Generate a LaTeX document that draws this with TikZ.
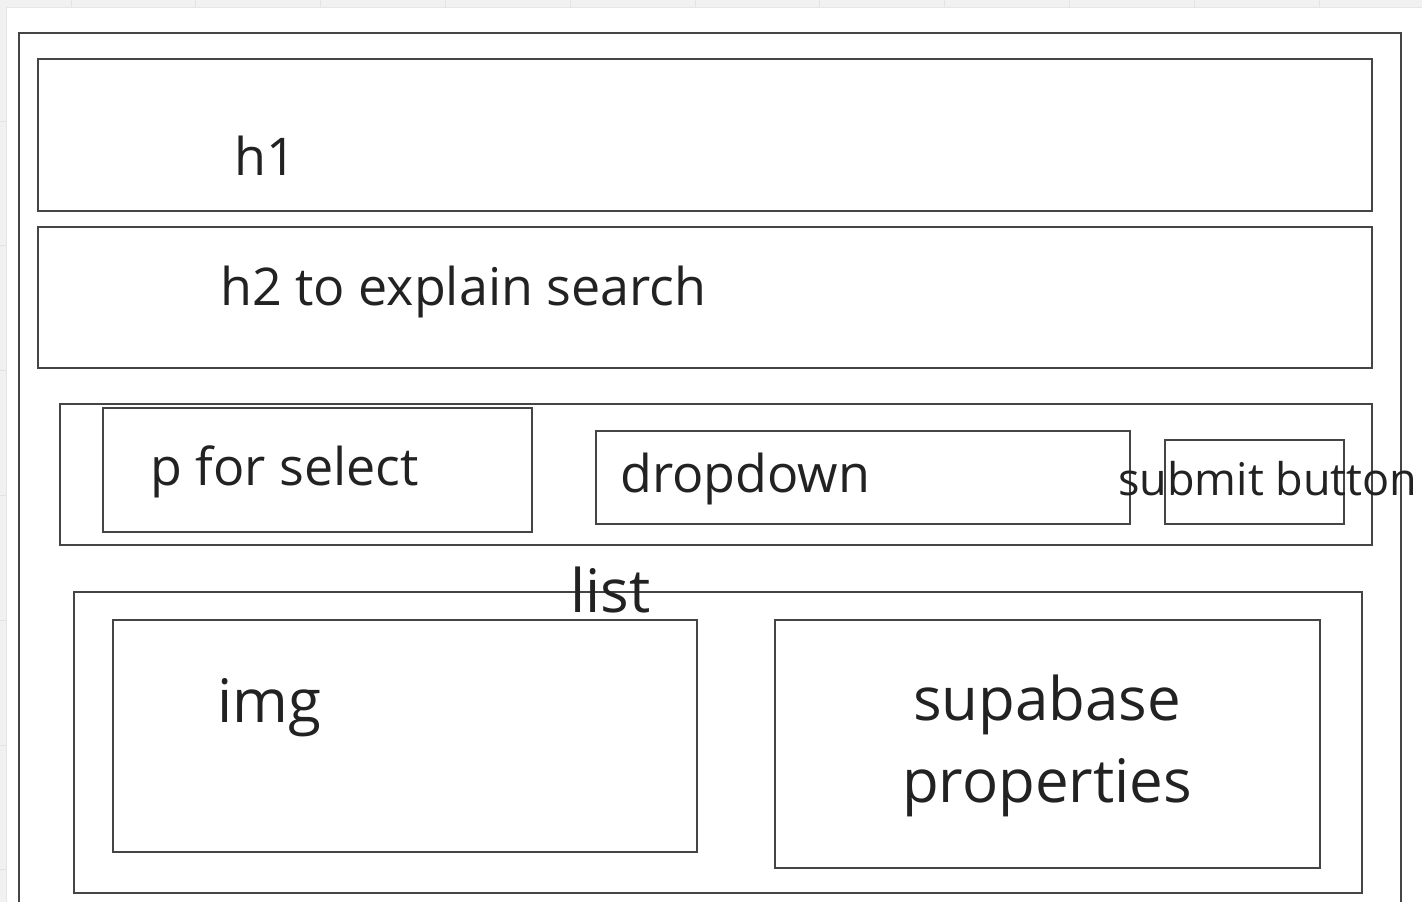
\documentclass[tikz,border=0pt]{standalone}
\usepackage{fontspec}
\setmainfont{Open Sans}
\definecolor{ln}{HTML}{454545}
\definecolor{tx}{HTML}{222222}
\definecolor{cv}{HTML}{F1F1F1}
\definecolor{gl}{HTML}{E3E3E3}
\definecolor{pb}{HTML}{E6E6E6}
\begin{document}
\begin{tikzpicture}[x=1pt,y=-1pt,
  box/.style={draw=ln, line width=1.8pt, rectangle, inner sep=0pt, outer sep=0pt, anchor=north west},
  lbl/.style={text=tx, inner sep=0pt, anchor=base west},
  big/.style={font=\fontsize{60}{82}\selectfont},
  mid/.style={font=\fontsize{52}{70}\selectfont},
  sml/.style={font=\fontsize{45}{60}\selectfont}]
\useasboundingbox (0,0) rectangle (1422,902);
\clip (0,0) rectangle (1422,902);
% canvas with grid
\fill[cv] (0,0) rectangle (1422,902);
\foreach \i in {0,...,11} {
  \draw[gl, line width=1pt] ({71+124.8*\i},0) -- ({71+124.8*\i},902);
  \draw[gl, line width=1pt] (0,{121+124.8*\i}) -- (1422,{121+124.8*\i});
}
% page
\fill[white, draw=pb, line width=1pt] (6,7) rectangle (1440,920);
% outer frame (runs past the bottom edge)
\draw[ln, line width=1.8pt] (19,920) -- (19,33) -- (1401,33) -- (1401,920);
% boxes
\node[box, minimum width=1334pt, minimum height=152pt] (h1box) at (38,59) {};
\node[box, minimum width=1334pt, minimum height=141pt] (h2box) at (38,227) {};
\node[box, minimum width=1312pt, minimum height=141pt] (selrow) at (60,404) {};
\node[box, minimum width=429pt, minimum height=124pt] (pbox) at (103,408) {};
\node[box, minimum width=534pt, minimum height=93pt] (ddbox) at (596,431) {};
\node[box, minimum width=179pt, minimum height=84pt] (subbox) at (1165,440) {};
\node[box, minimum width=1288pt, minimum height=301pt] (listbox) at (74,592) {};
\node[box, minimum width=584pt, minimum height=232pt] (imgbox) at (113,620) {};
\node[box, minimum width=545pt, minimum height=248pt] (supbox) at (775,620) {};
% labels
\node[lbl, mid] (h1t) at (234,175) {h1};
\node[lbl, mid] (h2t) at (220,305) {h2 to explain search};
\node[lbl, mid] (pt) at (150,485) {p for select};
\node[lbl, mid] (ddt) at (620,492) {dropdown};
\node[lbl, sml] (subt) at (1118,495) {submit button};
\node[lbl, big] (listt) at (570,612) {list};
\node[lbl, big] (imgt) at (217,722) {img};
\node[text=tx, inner sep=0pt, anchor=base, big] (sup1) at (1047,720) {supabase};
\node[text=tx, inner sep=0pt, anchor=base, big] (sup2) at (1047,802) {properties};
\end{tikzpicture}
\end{document}
